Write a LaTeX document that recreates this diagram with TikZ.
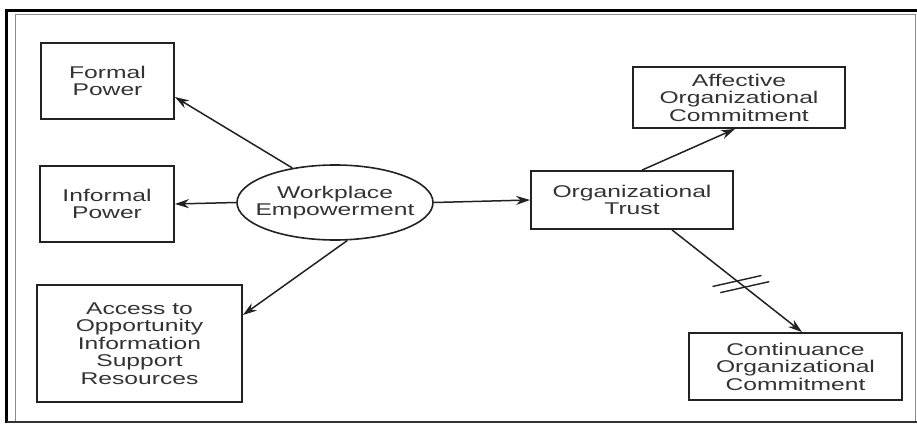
\documentclass[tikz,border=0pt]{standalone}
\usepackage{fontspec}
\setmainfont{Liberation Sans}[FakeStretch=1.45]
\usetikzlibrary{arrows.meta,shapes.geometric,calc}
\definecolor{ink}{HTML}{222222}
\definecolor{txt}{HTML}{333333}
\definecolor{frameg}{HTML}{8A8A8A}
\begin{document}
\begin{tikzpicture}[x=1pt,y=-1pt,
  box/.style={draw=ink,line width=1.8pt,rectangle,inner sep=0pt,align=center,
    text=txt,font=\fontsize{17}{17.5}\selectfont},
  oval/.style={draw=ink,line width=1.6pt,ellipse,inner xsep=-14pt,inner ysep=0pt,align=center,
    text=txt,font=\fontsize{17}{17.5}\selectfont,minimum width=196pt,minimum height=75pt},
  arr/.style={draw=ink,line width=1.5pt,-{Stealth[length=14pt,width=9pt]}},
  tick/.style={draw=ink,line width=1.4pt}]
\useasboundingbox (0,0) rectangle (917,423);
% frame
\draw[frameg,line width=1pt] (15,14) rectangle (915,421);
\draw[black,line width=2.2pt] (6.5,423) -- (6.5,10.5) -- (917,10.5);
\draw[black!80,line width=1.5pt] (6.5,422) -- (917,422);
% nodes
\node[box,minimum width=133pt,minimum height=76pt] (fp) at (107.5,81) {Formal\\Power};
\node[box,minimum width=134pt,minimum height=76pt] (ip) at (107,204) {Informal\\Power};
\node[box,minimum width=205pt,minimum height=117pt] (ac) at (139.5,343.5) {Access to\\Opportunity\\Information\\Support\\Resources};
\node[oval] (e) at (335,202.5) {Workplace\\Empowerment};
\node[box,minimum width=202pt,minimum height=58pt] (tr) at (632,200) {Organizational\\Trust};
\node[box,minimum width=212pt,minimum height=61pt] (af) at (739,97.5) {Affective\\Organizational\\Commitment};
\node[box,minimum width=213pt,minimum height=67pt] (co) at (795.5,366.5) {Continuance\\Organizational\\Commitment};
% connectors
\draw[arr] (e.141.7) -- ([yshift=-16pt]fp.east);
\draw[arr] (e.west) -- (ip.east);
\draw[arr] (e.-72) -- ([yshift=28.5pt]ac.east);
\draw[arr] (e.east) -- (tr.west);
\draw[arr] ([xshift=10pt]tr.north) -- ([xshift=-4pt]af.south);
\draw[arr] ([xshift=40pt]tr.south) -- coordinate[pos=0.50] (m1) coordinate[pos=0.56] (m2) ([xshift=6.5pt]co.north);
\draw[tick] ($(m1)+(-24.5,5.5)$) -- ($(m1)+(24.5,-5.5)$);
\draw[tick] ($(m2)+(-24.5,5.5)$) -- ($(m2)+(24.5,-5.5)$);
\end{tikzpicture}
\end{document}
